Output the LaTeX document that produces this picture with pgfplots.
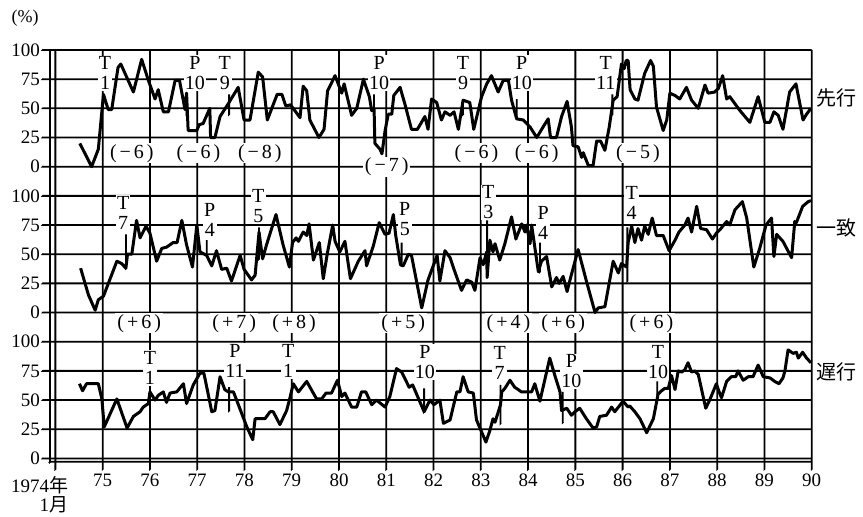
\documentclass[border=0pt]{standalone}
\usepackage{fontspec}
\setmainfont{Liberation Serif}
\newfontfamily\jp{Noto Sans CJK JP}
\usepackage{pgfplots}
\pgfplotsset{compat=1.18}
\usetikzlibrary{calc}

% one pt here is one pixel of the reference
\tikzset{
  tp/.style={fill=white,inner sep=1.2pt,align=center,font=\fontsize{20}{20}\selectfont},
  lag/.style={fill=white,inner xsep=2pt,inner ysep=1pt,font=\fontsize{20}{20}\selectfont},
  mk/.style={black,line width=1.8pt},
  grd/.style={black,line width=1.8pt},
  side/.style={anchor=west,inner sep=0pt,font=\jp\fontsize{20}{20}\selectfont},
  di/.style={black,line width=3pt,line join=round},
}
\newcommand{\lagt}[2]{(\hspace{3pt}#1\hspace{3pt}#2\hspace{3pt})}
% tiny slanted end keeps thin straight rules from being dropped
\newcommand{\tl}{-- ++(0.5pt,0.5pt)}

\begin{document}
\begin{tikzpicture}
\begin{axis}[name=ax, at={(0,0)}, anchor=south west, scale only axis,
  width=761.7pt, height=411.8pt,
  xmin=-1.37, xmax=192, ymin=-2.9, ymax=350,
  xtick={0,12,...,192},
  xticklabels={,75,76,77,78,79,80,81,82,83,84,85,86,87,88,89,90},
  ytick={0,25,...,350},
  yticklabels={0,25,50,75,100,0,25,50,75,100,0,25,50,75,100},
  tick pos=left, tick align=outside, major tick length=7pt,
  tick style={draw=none}, axis line style={draw=none}, grid=none,
  tick label style={font=\fontsize{19}{20}\selectfont},
  yticklabel style={inner xsep=3pt},
  xticklabel style={yshift=-2pt},
  /pgf/number format/assume math mode=true,
  clip=false]

% horizontal grid lines with their ticks, bottom axis line
\pgfplotsinvokeforeach{0,25,...,350}{
  \draw[grd] (192,#1) -- (-3.15,#1) \tl;
}
\draw[grd] (192,-2.9) -- (-1.37,-2.9) \tl;
% vertical lines and x ticks
\draw[grd] (-1.37,350) -- (-1.37,-2.9) \tl;
\pgfplotsinvokeforeach{0,12,...,192}{
  \draw[grd] (#1,350) -- (#1,-2.9) -- ++(0pt,-7.2pt) \tl;
}

% turning point labels
\node[tp] at (12.6,330) {T\\1};
\node[tp] at (35.4,330) {P\\10};
\node[tp] at (43.0,330) {T\\9};
\node[tp] at (82.2,330) {P\\10};
\node[tp] at (103.5,330) {T\\9};
\node[tp] at (118.4,330) {P\\10};
\node[tp] at (139.7,330) {T\\11};

\node[tp] at (17.2,210.7) {T\\7};
\node[tp] at (39.2,204.3) {P\\4};
\node[tp] at (51.5,216.3) {T\\5};
\node[tp] at (88.7,205.1) {P\\5};
\node[tp] at (109.9,219.3) {T\\3};
\node[tp] at (123.8,202.1) {P\\4};
\node[tp] at (146.3,218.8) {T\\4};

\node[tp] at (24.0,77.4) {T\\1};
\node[tp] at (45.6,83.4) {P\\11};
\node[tp] at (59.1,83.4) {T\\1};
\node[tp] at (93.8,82.4) {P\\10};
\node[tp] at (112.8,81.9) {T\\7};
\node[tp] at (131.0,74.5) {P\\10};
\node[tp] at (153.0,82.6) {T\\10};

% lead / lag in months
\node[lag] at (19.4,261.5) {\lagt{−}{6}};
\node[lag] at (36.3,261.5) {\lagt{−}{6}};
\node[lag] at (51.9,261.5) {\lagt{−}{8}};
\node[lag] at (84.1,250) {\lagt{−}{7}};
\node[lag] at (106.9,261.5) {\lagt{−}{6}};
\node[lag] at (122.2,261.5) {\lagt{−}{6}};
\node[lag] at (147.9,261.5) {\lagt{−}{5}};

\node[lag] at (21.3,115.7) {\lagt{+}{6}};
\node[lag] at (45.4,115.7) {\lagt{+}{7}};
\node[lag] at (60.6,115.7) {\lagt{+}{8}};
\node[lag] at (88.3,115.7) {\lagt{+}{5}};
\node[lag] at (115.0,115.7) {\lagt{+}{4}};
\node[lag] at (128.9,115.7) {\lagt{+}{6}};
\node[lag] at (151.3,115.7) {\lagt{+}{6}};

% marker ticks
\draw[mk] (33.3,314) -- (33.3,295) \tl;
\draw[mk] (44.1,312) -- (44.1,295) \tl;
\draw[mk] (80.9,312) -- (80.9,297) \tl;
\draw[mk] (103.5,308) -- (103.5,295) \tl;
\draw[mk] (117.1,308) -- (117.1,292) \tl;
\draw[mk] (141.4,312) -- (141.4,295) \tl;
\draw[mk] (17.9,192) -- (17.9,163) \tl;
\draw[mk] (38.4,187) -- (38.4,175) \tl;
\draw[mk] (51.7,198) -- (51.7,171) \tl;
\draw[mk] (87.9,185) -- (87.9,166) \tl;
\draw[mk] (109.6,204) -- (109.6,156) \tl;
\draw[mk] (123.0,185) -- (123.0,160) \tl;
\draw[mk] (145.2,198) -- (145.2,152) \tl;
\draw[mk] (44.1,61) -- (44.1,41) \tl;
\draw[mk] (93.6,60) -- (93.6,40) \tl;
\draw[mk] (113.0,63) -- (113.0,30) \tl;
\draw[mk] (128.8,57) -- (128.8,31) \tl;
\draw[mk] (152.8,66) -- (152.8,51) \tl;

% leading index
\addplot[di, y filter/.expression={y+250}] coordinates {
(6.2,20)(9.2,0)(10.9,15)(12.2,62)(13.4,49)(14.3,49)(15.9,85)(16.6,88)(19.8,64)(21.9,92)
(23.6,74)(25.3,58)(26.1,66)(27.4,47)(28.7,47)(30.4,74)(31.5,74)(32.9,49)(33.3,63)(33.7,31)
(35.9,31)(36.5,36)(37.5,37)(39.2,50)(39.4,25)(40.5,25)(41.8,43)(43.9,54)(46.4,68)(47.9,40)
(49.4,40)(51.5,81)(52.6,77)(53.8,40)(56.3,62)(57.5,62)(58.5,52)(59.7,53)(62.1,42)(62.9,69)
(63.8,65)(64.6,40)(66.9,25)(68.2,32)(69.1,65)(71,78)(72.7,63)(73.3,71)(75.2,44)(76.5,50)
(78.2,75)(79.7,60)(80.3,48)(80.9,50)(81.1,20)(82.4,15)(82.9,11)(83.7,31)(84.5,45)(85.4,45)
(85.9,61)(87.5,68)(88.7,54)(90.4,32)(91.9,32)(93.8,43)(94.6,32)(95.5,58)(96.8,55)(98.0,40)
(98.9,47)(100.2,44)(101.2,47)(102.3,32)(103.5,57)(105.2,55)(106.2,32)(108.2,60)(109.5,71)(110.7,78)
(112.4,64)(113.7,74)(115.0,74)(115.8,57)(117.1,41)(118.8,40)(120.5,34)(122.2,25)(123.8,34)(125.1,41)
(125.7,25)(127.2,25)(128.5,43)(129.9,56)(131.0,34)(131.4,18)(132.7,17)(133.6,8)(134.0,12)(135.3,1)
(136.5,1)(137.4,22)(138.4,22)(139.5,14)(140.6,34)(141.6,57)(142.6,60)(143.7,88)(144.4,84)(144.9,91)
(145.4,91)(145.9,66)(147.1,58)(147.9,57)(149.6,80)(151.1,91)(151.8,86)(152.6,51)(154.3,31)(155.2,40)
(156.0,63)(157.3,61)(158.5,58)(160.2,68)(161.5,57)(163.2,50)(164.9,70)(165.7,63)(167.4,64)(168.3,67)
(169.4,78)(170.4,58)(171.2,60)(173.8,48)(176.3,38)(178.4,60)(180.1,38)(181.4,38)(182.4,47)(183.5,44)
(184.7,32)(186.4,64)(188.0,71)(189.8,40)(190.7,45)(191.8,50)};

% coincident index
\addplot[di, y filter/.expression={y+125}] coordinates {
(6.4,38)(8.4,15)(10.1,2)(10.9,11)(12.2,14)(13.9,29)(15.6,44)(16.8,42)(17.9,38)(18.3,50)
(19.4,50)(20.6,79)(21.5,64)(23.0,74)(24.0,68)(25.7,44)(27.0,55)(28.2,56)(29.9,60)(30.9,60)
(32.1,79)(33.3,58)(34.8,39)(35.9,75)(36.7,52)(38.4,49)(39.7,40)(40.9,53)(42.2,37)(43.5,38)
(44.7,27)(46.9,49)(47.9,37)(49.8,28)(50.7,32)(51.7,69)(52.6,46)(53.6,58)(56.0,84)(57.8,58)
(59.4,39)(60.2,60)(61.1,64)(61.7,61)(62.9,69)(63.8,66)(64.4,76)(65.5,45)(67.0,60)(68.0,29)
(69.0,50)(70.4,75)(71.0,61)(72.2,52)(73.5,61)(74.9,29)(76.9,44)(78.6,53)(79.0,40)(80.7,57)
(82.2,77)(83.7,67)(84.7,68)(85.8,84)(86.4,66)(87.6,41)(88.3,40)(89.6,50)(90.4,49)(93.0,4)
(94.6,28)(96.9,49)(97.6,27)(98.9,53)(100.2,47)(101.4,35)(103.1,19)(104.4,28)(105.7,26)(106.5,19)
(107.8,47)(108.6,41)(109.5,52)(109.6,30)(110.3,62)(111.1,52)(111.6,59)(112.8,45)(114.1,59)(115.8,82)
(116.9,63)(118.4,76)(119.2,69)(119.6,75)(120.5,59)(120.9,75)(122.6,35)(123.4,44)(124.7,48)(126.0,22)
(127.2,30)(127.9,25)(128.9,31)(129.9,18)(130.8,30)(132.7,54)(134.8,27)(137.0,0)(137.8,4)(139.5,5)
(141.6,44)(142.9,34)(143.7,42)(145.0,39)(145.4,60)(146.3,74)(147.1,60)(147.9,72)(148.8,62)(149.6,74)
(150.5,67)(151.5,81)(152.6,66)(154.3,66)(155.8,53)(157.3,62)(158.3,69)(159.8,75)(160.6,81)(161.5,69)
(162.8,91)(163.8,72)(165.3,71)(166.8,63)(167.8,68)(168.7,71)(170.4,78)(171.2,75)(172.5,88)(174.4,95)
(175.5,81)(177.3,39)(178.8,55)(180.4,75)(181.8,81)(182.4,48)(183.1,67)(184.7,61)(186.9,47)(187.7,78)
(188.1,77)(189.7,91)(191.1,95)(191.8,96)};

% lagging index
\addplot[di] coordinates {
(6.1,64)(6.9,58)(7.9,64)(10.9,64)(11.8,51)(12.4,27)(15.6,51)(18.2,26)(19.8,36)(21.5,40)
(22.3,44)(23.6,47)(24.0,57)(25.3,50)(26.1,54)(27.4,57)(28.2,48)(29.1,56)(30.8,57)(32.5,64)
(33.3,47)(35.0,63)(36.7,73)(37.7,73)(39.7,40)(40.5,41)(41.8,70)(43.0,59)(43.9,57)(45.2,57)
(46.0,50)(48.6,27)(50.1,16)(50.7,34)(53.2,34)(54.5,40)(55.3,40)(57.0,29)(58.7,41)(59.4,50)
(60.4,64)(61.7,57)(63.8,66)(66.3,51)(67.6,51)(68.7,56)(70.1,56)(71.6,67)(72.7,53)(73.5,56)
(75.2,44)(76.5,44)(77.7,57)(78.8,57)(80.3,46)(81.5,50)(83.7,44)(84.9,53)(86.6,77)(87.9,74)
(88.5,70)(89.8,61)(90.7,63)(93.6,40)(95.1,50)(96.1,46)(97.6,50)(98.5,30)(100.2,33)(101.9,57)
(102.7,57)(103.5,70)(104.8,57)(106.1,56)(106.9,33)(109.3,14)(110.3,24)(111.1,34)(111.6,31)(113.0,46)
(113.3,57)(114.1,60)(115.4,67)(116.6,61)(117.5,59)(118.3,57)(119.6,57)(120.9,57)(121.7,64)(123.0,49)
(125.5,86)(126.8,71)(128.1,57)(128.5,41)(129.8,43)(131.0,37)(131.9,40)(133.1,43)(134.8,34)(136.5,26)
(137.4,27)(138.2,36)(139.9,37)(141.2,44)(142.0,40)(144.1,49)(145.4,44)(145.8,45)(147.1,40)(148.4,34)
(150.1,22)(151.8,34)(153.0,55)(153.9,58)(154.7,60)(155.6,60)(156.4,71)(157.3,59)(158.1,75)(159.0,74)
(159.8,76)(160.6,82)(161.5,74)(162.3,75)(163.2,72)(165.1,43)(166.1,50)(167.8,64)(168.5,57)(169.1,52)
(170.4,66)(171.6,70)(172.7,70)(173.3,75)(174.6,67)(175.9,70)(177.1,70)(178.4,80)(179.7,70)(181.4,69)
(182.6,66)(183.7,64)(184.7,69)(185.2,75)(186.0,93)(187.3,90)(188.1,91)(188.6,86)(189.7,91)(190.7,86)
(191.8,82)};

% side and corner texts
\node[side] at (193.1,309.3) {先行};
\node[side] at (193.1,197.8) {一致};
\node[side] at (193.1,74.4) {遅行};
\node[inner sep=0pt,font=\fontsize{18}{18}\selectfont] at (-7.7,377) {(\%)};
\node[anchor=north east,inner sep=0pt,align=right,yshift=-14pt,
  font=\fontsize{19}{19}\selectfont] at (3.3,-2.9) {1974{\jp 年}\\1{\jp 月}};
\end{axis}
\pgfresetboundingbox
\path[use as bounding box] ($(ax.south west)+(-50pt,-54.2pt)$) rectangle ($(ax.north east)+(51.3pt,50pt)$);
\end{tikzpicture}
\end{document}
